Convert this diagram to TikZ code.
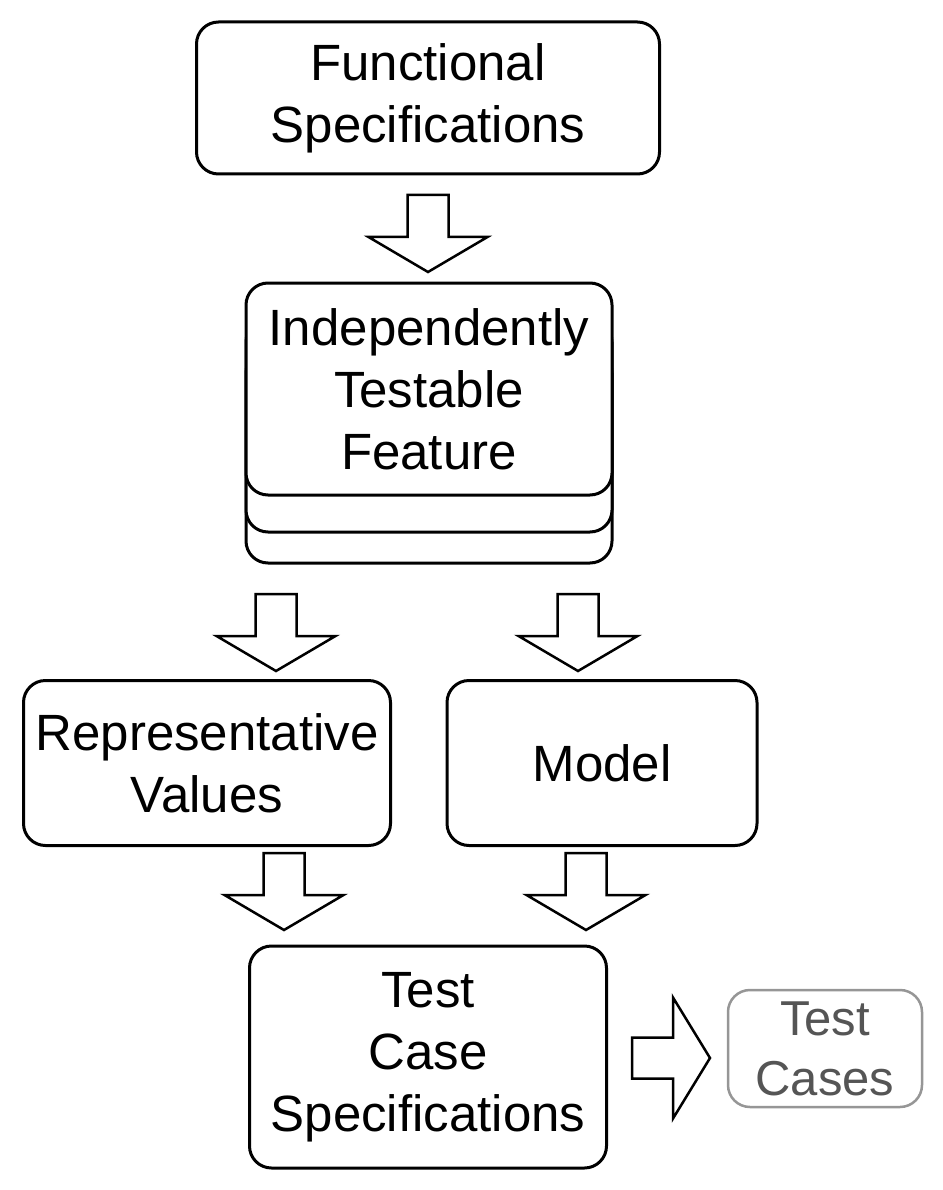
\documentclass[tikz,border=0pt]{standalone}
\usepackage{fontspec}
\setmainfont{Liberation Sans}
\usetikzlibrary{positioning}
\usetikzlibrary{calc}
\definecolor{boxgray}{RGB}{150,150,150}
\definecolor{textgray}{RGB}{85,85,85}
\tikzset{box/.style={draw, line width=3pt, rounded corners=22pt, fill=white,
    align=center, inner sep=0pt, font=\fontsize{51}{62}\selectfont}}
\tikzset{outbox/.style={box, draw=boxgray, text=textgray, line width=2.5pt,
    font=\fontsize{49}{60}\selectfont}}
\tikzset{blockarrow/.style={draw, line width=2.5pt, fill=white, line join=miter}}
% block arrow pointing down, from the top middle of its shaft
\newcommand{\downblock}[1]{%
  \draw[blockarrow] (#1) ++(-20.5,0) -- ++(0,-42) -- ++(-39,0) -- ++(59.5,-35)
    -- ++(59.5,35) -- ++(-39,0) -- ++(0,42) -- cycle;}
% block arrow pointing right, from the left middle of its shaft
\newcommand{\rightblock}[1]{%
  \draw[blockarrow] (#1) ++(0,20.5) -- ++(41,0) -- ++(0,40) -- ++(37,-60.5)
    -- ++(-37,-60.5) -- ++(0,40) -- ++(-41,0) -- cycle;}

\begin{document}
\begin{tikzpicture}[x=1pt, y=1pt]
\useasboundingbox (0,0) rectangle (942,-1190);

\node[box, minimum width=463pt, minimum height=152pt] (func) at (428,-98)
  {Functional\\Specifications};

% stacked feature boxes
\node[box, minimum width=366pt, minimum height=212pt] (itf3) at (429,-457) {};
\node[box, minimum width=366pt, minimum height=212pt] (itf2) at (429,-426) {};
\node[box, minimum width=366pt, minimum height=212pt] (itf) at (429,-389)
  {Independently\\Testable\\Feature};

\node[box, minimum width=367pt, minimum height=165pt] (rep) at (207,-763)
  {Representative\\Values};
\node[box, minimum width=310pt, minimum height=165pt] (model) at (602,-763)
  {Model};

\node[box, minimum width=357pt, minimum height=222pt] (tcs) at (428,-1057)
  {Test\\Case\\Specifications};
\node[outbox, minimum width=194pt, minimum height=117pt] (tc) at (825,-1048.5)
  {Test\\Cases};

\coordinate (a1) at (428,-195);
\coordinate (a2) at (276,-594);
\coordinate (a3) at (578,-594);
\coordinate (a4) at (284,-853);
\coordinate (a5) at (586,-853);
\coordinate (a6) at (632,-1058);

\downblock{a1}
\downblock{a2}
\downblock{a3}
\downblock{a4}
\downblock{a5}
\rightblock{a6}
\end{tikzpicture}
\end{document}
